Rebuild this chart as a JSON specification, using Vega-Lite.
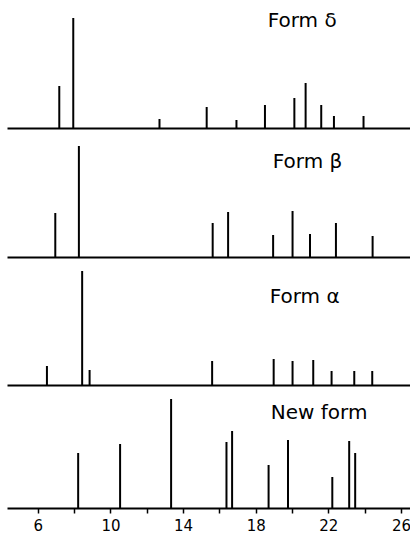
{
  "$schema": "https://vega.github.io/schema/vega-lite/v6.json",
  "padding": {"left": 7, "top": 8, "right": 0, "bottom": 0},
  "background": "white",
  "spacing": 2,
  "config": {"view": {"stroke": null}, "font": "DejaVu Sans"},
  "datasets": {
    "peaks": [
      {"form": "delta", "pos": 7.18, "h": 42},
      {"form": "delta", "pos": 7.95, "h": 110},
      {"form": "delta", "pos": 12.7, "h": 9},
      {"form": "delta", "pos": 15.3, "h": 21},
      {"form": "delta", "pos": 16.94, "h": 8},
      {"form": "delta", "pos": 18.51, "h": 23},
      {"form": "delta", "pos": 20.13, "h": 30},
      {"form": "delta", "pos": 20.75, "h": 45},
      {"form": "delta", "pos": 21.61, "h": 23},
      {"form": "delta", "pos": 22.31, "h": 12},
      {"form": "delta", "pos": 23.94, "h": 12},
      {"form": "beta", "pos": 6.96, "h": 44},
      {"form": "beta", "pos": 8.26, "h": 111},
      {"form": "beta", "pos": 15.63, "h": 34},
      {"form": "beta", "pos": 16.48, "h": 45},
      {"form": "beta", "pos": 18.96, "h": 22},
      {"form": "beta", "pos": 20.03, "h": 46},
      {"form": "beta", "pos": 20.99, "h": 23},
      {"form": "beta", "pos": 22.42, "h": 34},
      {"form": "beta", "pos": 24.44, "h": 21},
      {"form": "alpha", "pos": 6.5, "h": 19},
      {"form": "alpha", "pos": 8.44, "h": 114},
      {"form": "alpha", "pos": 8.85, "h": 15},
      {"form": "alpha", "pos": 15.6, "h": 24},
      {"form": "alpha", "pos": 18.99, "h": 26},
      {"form": "alpha", "pos": 20.03, "h": 24},
      {"form": "alpha", "pos": 21.17, "h": 25},
      {"form": "alpha", "pos": 22.18, "h": 14},
      {"form": "alpha", "pos": 23.43, "h": 14},
      {"form": "alpha", "pos": 24.42, "h": 14},
      {"form": "new", "pos": 8.22, "h": 55},
      {"form": "new", "pos": 10.53, "h": 64},
      {"form": "new", "pos": 13.34, "h": 109},
      {"form": "new", "pos": 16.39, "h": 66},
      {"form": "new", "pos": 16.7, "h": 77},
      {"form": "new", "pos": 18.71, "h": 43},
      {"form": "new", "pos": 19.78, "h": 68},
      {"form": "new", "pos": 22.22, "h": 31},
      {"form": "new", "pos": 23.15, "h": 67},
      {"form": "new", "pos": 23.48, "h": 55}
    ]
  },
  "vconcat": [
    {
      "width": 403, "height": 120,
      "layer": [
        {
          "data": {"name": "peaks"},
          "transform": [{"filter": "datum.form == 'delta'"}],
          "mark": {"type": "rule", "strokeWidth": 2, "color": "black"},
          "encoding": {
            "x": {"field": "pos", "type": "quantitative", "scale": {"domain": [4.3, 26.5], "nice": false, "zero": false},
                  "axis": {"ticks": false, "labels": false, "grid": false, "title": null, "domainWidth": 2, "domainColor": "black"}},
            "y": {"field": "h", "type": "quantitative", "scale": {"domain": [0, 120], "nice": false}, "axis": null},
            "y2": {"datum": 0}
          }
        },
        {
          "data": {"values": [{"label": "Form δ"}]},
          "mark": {"type": "text", "align": "left", "baseline": "alphabetic", "fontSize": 20, "color": "black"},
          "encoding": {
            "text": {"field": "label"},
            "x": {"datum": 18.66, "type": "quantitative"},
            "y": {"datum": 101, "type": "quantitative"}
          }
        }
      ]
    },
    {
      "width": 403, "height": 126,
      "layer": [
        {
          "data": {"name": "peaks"},
          "transform": [{"filter": "datum.form == 'beta'"}],
          "mark": {"type": "rule", "strokeWidth": 2, "color": "black"},
          "encoding": {
            "x": {"field": "pos", "type": "quantitative", "scale": {"domain": [4.3, 26.5], "nice": false, "zero": false},
                  "axis": {"ticks": false, "labels": false, "grid": false, "title": null, "domainWidth": 2, "domainColor": "black"}},
            "y": {"field": "h", "type": "quantitative", "scale": {"domain": [0, 126], "nice": false}, "axis": null},
            "y2": {"datum": 0}
          }
        },
        {
          "data": {"values": [{"label": "Form β"}]},
          "mark": {"type": "text", "align": "left", "baseline": "alphabetic", "fontSize": 20, "color": "black"},
          "encoding": {
            "text": {"field": "label"},
            "x": {"datum": 18.94, "type": "quantitative"},
            "y": {"datum": 89, "type": "quantitative"}
          }
        }
      ]
    },
    {
      "width": 403, "height": 125,
      "layer": [
        {
          "data": {"name": "peaks"},
          "transform": [{"filter": "datum.form == 'alpha'"}],
          "mark": {"type": "rule", "strokeWidth": 2, "color": "black"},
          "encoding": {
            "x": {"field": "pos", "type": "quantitative", "scale": {"domain": [4.3, 26.5], "nice": false, "zero": false},
                  "axis": {"ticks": false, "labels": false, "grid": false, "title": null, "domainWidth": 2, "domainColor": "black"}},
            "y": {"field": "h", "type": "quantitative", "scale": {"domain": [0, 125], "nice": false}, "axis": null},
            "y2": {"datum": 0}
          }
        },
        {
          "data": {"values": [{"label": "Form α"}]},
          "mark": {"type": "text", "align": "left", "baseline": "alphabetic", "fontSize": 20, "color": "black"},
          "encoding": {
            "text": {"field": "label"},
            "x": {"datum": 18.77, "type": "quantitative"},
            "y": {"datum": 82, "type": "quantitative"}
          }
        }
      ]
    },
    {
      "width": 403, "height": 120,
      "layer": [
        {
          "data": {"name": "peaks"},
          "transform": [{"filter": "datum.form == 'new'"}],
          "mark": {"type": "rule", "strokeWidth": 2, "color": "black"},
          "encoding": {
            "x": {"field": "pos", "type": "quantitative", "scale": {"domain": [4.3, 26.5], "nice": false, "zero": false},
                  "axis": {"values": [6,7,8,9,10,11,12,13,14,15,16,17,18,19,20,21,22,23,24,25,26],
                           "labelExpr": "datum.value % 4 == 2 ? datum.label : ''",
                           "grid": false, "title": null, "domainWidth": 2, "domainColor": "black",
                           "tickColor": "black", "tickWidth": 1.5, "tickSize": 5,
                           "labelFontSize": 15, "labelColor": "black", "labelPadding": 5, "labelFlush": false, "labelOverlap": false}},
            "y": {"field": "h", "type": "quantitative", "scale": {"domain": [0, 120], "nice": false}, "axis": null},
            "y2": {"datum": 0}
          }
        },
        {
          "data": {"values": [{"label": "New form"}]},
          "mark": {"type": "text", "align": "left", "baseline": "alphabetic", "fontSize": 20, "color": "black"},
          "encoding": {
            "text": {"field": "label"},
            "x": {"datum": 18.83, "type": "quantitative"},
            "y": {"datum": 89, "type": "quantitative"}
          }
        }
      ]
    }
  ]
}
